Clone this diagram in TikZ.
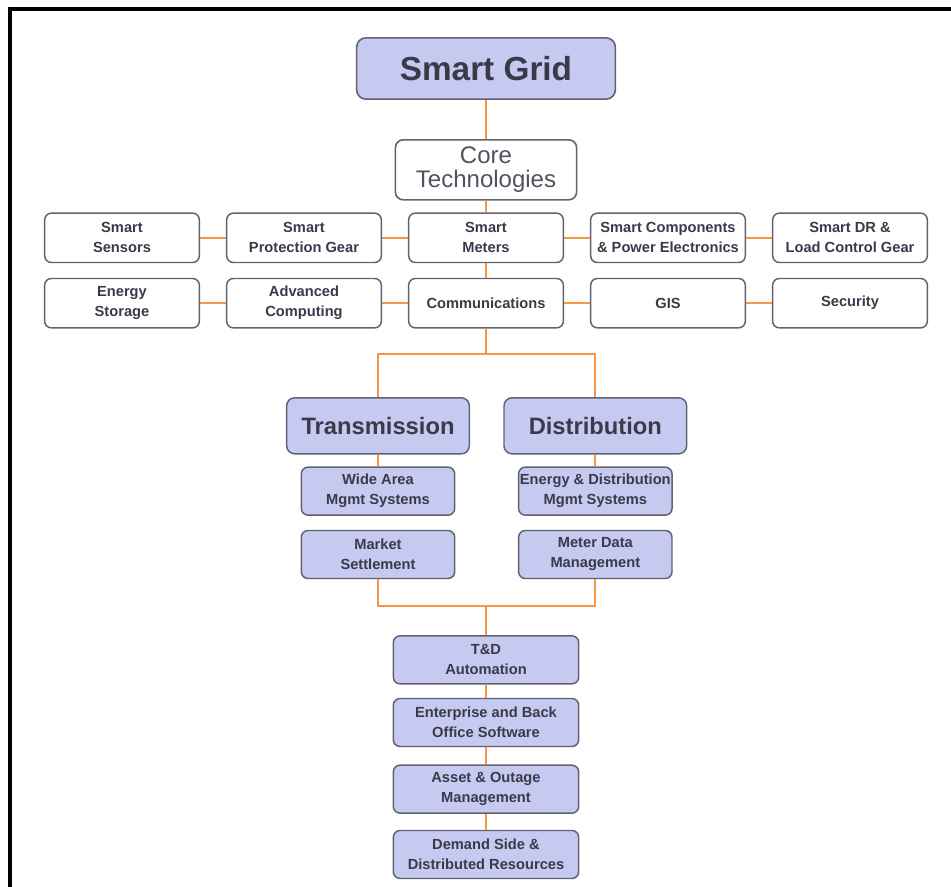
\documentclass[tikz,border=0pt]{standalone}
\usepackage{fontspec}
\setmainfont{Liberation Sans}
\usepackage{xcolor}
\usepackage{tikz}
\usetikzlibrary{positioning}
\definecolor{boxfill}{RGB}{198,201,240}
\definecolor{boxline}{RGB}{96,98,114}
\definecolor{linkorange}{RGB}{247,150,70}
\definecolor{textdark}{RGB}{58,58,74}
\definecolor{textgray}{RGB}{82,82,98}
\tikzstyle{head} = [rectangle, rounded corners=7pt, minimum width=194pt, minimum height=46pt, text centered, draw=boxline, line width=1.2pt, fill=boxfill, text=textdark, font=\fontsize{25}{28}\selectfont\bfseries]
\tikzstyle{core} = [rectangle, rounded corners=6pt, minimum width=136pt, minimum height=45pt, align=center, draw=boxline, line width=1.2pt, fill=white, text=textgray, font=\fontsize{18}{18}\selectfont]
\tikzstyle{tech} = [rectangle, rounded corners=5pt, minimum width=116pt, minimum height=37pt, inner sep=1pt, align=center, draw=boxline, line width=1.1pt, fill=white, text=textdark, font=\fontsize{11}{15}\selectfont\bfseries]
\tikzstyle{branch} = [rectangle, rounded corners=6pt, minimum width=137pt, minimum height=42pt, text centered, draw=boxline, line width=1.1pt, fill=boxfill, text=textdark, font=\fontsize{17.8}{20}\selectfont\bfseries]
\tikzstyle{app} = [tech, fill=boxfill, minimum width=115pt, minimum height=36pt]
\tikzstyle{chain} = [app, minimum width=139pt]
\tikzstyle{link} = [line width=1.5pt, draw=linkorange]

\begin{document}
\begin{tikzpicture}[x=0.75pt, y=0.75pt, node distance=49pt]
\useasboundingbox (0,0) rectangle (951,-887);
% frame
\draw [line width=3pt] (10,-887) -- (10,-9) -- (951,-9);

\node (grid) [head] at (486,-68.5) {Smart Grid};
\node (core) [core, below of=grid, yshift=-27pt] {Core\\Technologies};

% core technologies, two rows
\node (meters) [tech, below of=core, yshift=-2pt] {Smart\\Meters};
\node (protect) [tech, left of=meters, xshift=-87.5pt] {Smart\\Protection Gear};
\node (sensors) [tech, left of=protect, xshift=-87.5pt] {Smart\\Sensors};
\node (parts) [tech, right of=meters, xshift=87.5pt] {Smart Components\\\& Power Electronics};
\node (drgear) [tech, right of=parts, xshift=87.5pt] {Smart DR \&\\Load Control Gear};
\node (comm) [tech, below of=meters] {Communications};
\node (compute) [tech, below of=protect] {Advanced\\Computing};
\node (storage) [tech, below of=sensors] {Energy\\Storage};
\node (gis) [tech, below of=parts] {GIS};
\node (security) [tech, below of=drgear] {Security};

% transmission and distribution
\node (trans) [branch, below of=comm, xshift=-81pt, yshift=-43pt] {Transmission};
\node (dist) [branch, below of=comm, xshift=82pt, yshift=-43pt] {Distribution};
\node (wams) [app, below of=trans] {Wide Area\\Mgmt Systems};
\node (market) [app, below of=wams, yshift=1.5pt] {Market\\Settlement};
\node (edms) [app, below of=dist] {Energy \& Distribution\\Mgmt Systems};
\node (mdm) [app, below of=edms, yshift=1.5pt] {Meter Data\\Management};

% lower chain
\node (tda) [chain, below of=market, xshift=81pt, yshift=-30pt] {T\&D\\Automation};
\node (office) [chain, below of=tda, yshift=2pt] {Enterprise and Back\\Office Software};
\node (outage) [chain, below of=office, yshift=-1pt] {Asset \& Outage\\Management};
\node (demand) [chain, below of=outage] {Demand Side \&\\Distributed Resources};

\coordinate [below=19pt of comm] (split);
\coordinate [above=22pt of tda] (join);

\draw [link] (grid) -- (core);
\draw [link] (core) -- (meters);
\draw [link] (meters) -- (comm);
\draw [link] (sensors) -- (protect);
\draw [link] (protect) -- (meters);
\draw [link] (meters) -- (parts);
\draw [link] (parts) -- (drgear);
\draw [link] (storage) -- (compute);
\draw [link] (compute) -- (comm);
\draw [link] (comm) -- (gis);
\draw [link] (gis) -- (security);
\draw [link] (comm) -- (split);
\draw [link] (trans) |- (split) -| (dist);
\draw [link] (trans) -- (wams);
\draw [link] (dist) -- (edms);
\draw [link] (market) |- (join) -| (mdm);
\draw [link] (join) -- (tda);
\draw [link] (tda) -- (office);
\draw [link] (office) -- (outage);
\draw [link] (outage) -- (demand);

\end{tikzpicture}
\end{document}
